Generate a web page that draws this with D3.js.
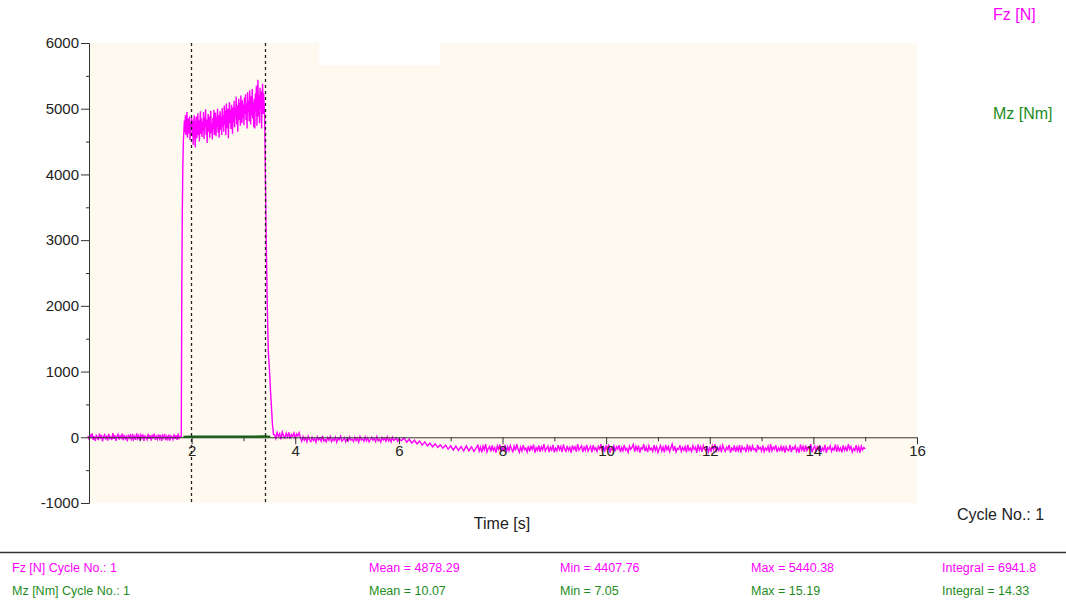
<!DOCTYPE html>
<html>
<head>
<meta charset="utf-8">
<script src="https://cdn.jsdelivr.net/npm/d3@7"></script>
<style>
  body { margin: 0; background: #fff; }
  svg text { font-family: "Liberation Sans", Arial, sans-serif; }
</style>
</head>
<body>
<svg id="chart" width="1066" height="608"></svg>
<script>
// sampled Fz before the press (t = 0 .. 1.78, every 0.02 s)
var fzPre = [20, -35, 45, -10, 60, -40, 15, -55, 30, 5, -45, 55, -20, 35, -60, 10, 40, -30, 25, -50,
  50, -15, 5, -40, 65, -25, 30, -55, 15, 45, -35, 20, -10, 55, -45, 35, -20, 10, -60, 40,
  -5, 30, -50, 50, -30, 15, -40, 60, -20, 25, -45, 35, -10, 45, -55, 20, 5, -35, 50, -25,
  30, -50, 40, -15, 55, -40, 10, -30, 45, -20, 35, -55, 25, -10, 50, -45, 15, -30, 40, -50,
  20, 5, -35, 45, -25, 30, -40, 55, -15, 10];
var fzPreStart = 0, fzPreStep = 0.02;

// rising edge [t, Fz]
var fzRise = [[1.80, 10], [1.81, 2200], [1.82, 3400], [1.83, 4100], [1.84, 4500], [1.85, 4650]];

// plateau (t = 1.86 .. 3.41, every 0.01 s)
var fzPlateau = [4820, 4640, 4900, 4600, 4780, 4950, 4560, 4850, 4700, 4620, 4880, 4520, 4790, 4680, 4860,
  4580, 4820, 4450, 4740, 4900, 4610, 4410, 4760, 4880, 4550, 4700, 4930, 4600, 4820, 4500, 4780, 4960, 4620, 4850, 4570,
  4800, 4660, 4950, 4540, 4870, 4720, 4990, 4600, 4830, 4480, 4760, 4920, 4650, 4880, 4560, 4810, 4970, 4630, 4770, 4530,
  4860, 4690, 4980, 4600, 4800, 4940, 4580, 4870, 4720, 5000, 4640, 4900, 4560, 4830, 4960, 4680, 4880, 4600, 5010, 4730,
  4900, 4650, 5050, 4760, 4970, 4600, 5080, 4820, 4700, 5000, 4550, 4920, 5100, 4780, 4980, 4690, 5060, 4840, 4620, 5020,
  4800, 5120, 4720, 5000, 4880, 5180, 4760, 5050, 4650, 4960, 5150, 4830, 5090, 4740, 5200, 4900, 4780, 5130, 4860, 5060,
  4750, 5170, 4920, 5220, 4830, 5080, 4700, 5250, 4950, 5120, 4810, 5280, 5000, 4760, 5190, 4900, 5300, 4850, 5100, 4720,
  5150, 4700, 5230, 4960, 5350, 4740, 5100, 5440, 4880, 5200, 4780, 5320, 4990, 5260, 4700, 5150, 5380, 4920, 5240, 5060, 4850];
var fzPlateauStart = 1.86, fzPlateauStep = 0.01;

// falling edge [t, Fz]
var fzFall = [[3.42, 4200], [3.44, 3000], [3.46, 2000], [3.48, 1300], [3.50, 1050], [3.53, 600], [3.56, 200], [3.58, 40]];

// after release, near zero (t = 3.60 .. 6.00, every 0.025 s)
var fzAfter = [40, -20, 70, 10, 55, -30, 80, 25, -10, 60, 5, 75, -25, 45, 15, 65, -15, 50, 20, 70, -5,
  -60, 10, -45, -5, -70, 15, -35, -65, 0, -50, -20, -75, 5, -40, -10, -60, 20, -55, -30, -70,
  -5, -45, 10, -65, -25, -50, 0, -75, -15, -40, 15, -60, -35, -5, -70, -20, -55, 5, -45, -30,
  -65, 0, -50, -15, -75, 10, -40, -25, -60, 5, -55, -10, -70, -35, 0, -45, -20, -65, 10, -50,
  -30, -75, -5, -40, -15, -60, 5, -55, -25, -70, 0, -45, -35, -10, -60, -30];
var fzAfterStart = 3.60, fzAfterStep = 0.025;

// slow drift down (t = 6.05 .. 7.50, every 0.05 s)
var fzDrift = [-50, -10, -75, -30, -90, -45, -100, -60, -120, -70, -130, -90, -145, -100, -155,
  -115, -165, -120, -180, -130, -195, -135, -200, -140, -210, -130, -205, -145, -215, -150];
var fzDriftStart = 6.05, fzDriftStep = 0.05;

// settled offset (t = 7.525 .. 15.0, every 0.025 s)
var fzTail = [-120, -210, -150, -230, -135, -190, -105, -225, -170, -140, -215, -125, -200, -160, -235, -130, -185, -110, -220, -155,
  -195, -115, -230, -145, -205, -125, -180, -220, -135, -200, -105, -175, -230, -150, -210, -120, -190, -165, -225, -130,
  -215, -140, -185, -110, -235, -160, -200, -125, -220, -145, -190, -105, -210, -170, -135, -225, -150, -195, -115, -230,
  -165, -205, -120, -190, -140, -225, -110, -180, -215, -130, -200, -155, -235, -125, -185, -145, -220, -105, -195, -160,
  -130, -225, -150, -200, -115, -210, -170, -135, -230, -120, -190, -160, -215, -140, -180, -105, -220, -150, -205, -125,
  -200, -110, -235, -165, -190, -130, -215, -145, -180, -120, -225, -155, -205, -115, -195, -170, -230, -135, -185, -150,
  -110, -220, -140, -195, -125, -235, -160, -180, -105, -210, -150, -225, -130, -190, -165, -215, -120, -200, -145, -230,
  -175, -125, -210, -150, -230, -115, -190, -140, -220, -160, -105, -205, -135, -225, -170, -185, -120, -215, -155, -195,
  -140, -230, -115, -200, -165, -215, -130, -185, -150, -235, -110, -195, -145, -220, -125, -180, -205, -135, -225, -160,
  -210, -130, -190, -105, -225, -155, -200, -140, -230, -120, -175, -215, -150, -185, -115, -235, -165, -195, -125, -220,
  -150, -205, -120, -235, -140, -185, -160, -225, -110, -200, -145, -215, -130, -190, -170, -230, -115, -180, -155, -210,
  -125, -220, -165, -195, -135, -230, -105, -205, -150, -185, -120, -225, -160, -200, -140, -215, -130, -235, -145, -190,
  -205, -115, -225, -155, -180, -130, -215, -165, -235, -110, -195, -140, -220, -125, -200, -150, -185, -105, -230, -170,
  -135, -210, -145, -190, -120, -225, -160, -200, -115, -235, -155, -180, -130, -215, -165, -195, -110, -220, -140, -205,
  -160, -230, -125, -195, -150, -215, -105, -185, -140, -225, -170, -200, -120, -210, -145, -235, -135, -190, -155, -180];
var fzTailStart = 7.525, fzTailStep = 0.025;

// Mz only while the load is on [t, Nm]
var mzData = [[1.84, 7.1], [2.0, 9.5], [2.3, 10.2], [2.6, 10.0], [2.9, 10.8], [3.2, 11.5], [3.4, 15.2], [3.52, 8.0]];

// cursor positions (s)
var cursors = [1.98, 3.41];

var xTicks = [2, 4, 6, 8, 10, 12, 14, 16];
var yTicks = [-1000, 0, 1000, 2000, 3000, 4000, 5000, 6000];

var statsRows = [
  { label: 'Fz [N] Cycle No.: 1', cells: ['Mean = 4878.29', 'Min = 4407.76', 'Max = 5440.38', 'Integral = 6941.8'], color: '#ff00ff' },
  { label: 'Mz [Nm] Cycle No.: 1', cells: ['Mean = 10.07', 'Min = 7.05', 'Max = 15.19', 'Integral = 14.33'], color: '#1e8c1e' }
];

// ---- build the series
function sampled(values, start, step) {
  return values.map(function(v, i) { return [start + i * step, v]; });
}
var fz = [].concat(
  sampled(fzPre, fzPreStart, fzPreStep),
  fzRise,
  sampled(fzPlateau, fzPlateauStart, fzPlateauStep),
  fzFall,
  sampled(fzAfter, fzAfterStart, fzAfterStep),
  sampled(fzDrift, fzDriftStart, fzDriftStep),
  sampled(fzTail, fzTailStart, fzTailStep)
);

var svg = d3.select('#chart');
// plot box (note: "top" is taken by window.top, so use other names)
var plotL = 89, plotR = 917, plotT = 43, plotB = 503;

var x = d3.scaleLinear().domain([0, 16]).range([88, plotR]);
var y = d3.scaleLinear().domain([-1000, 6000]).range([plotB, plotT]);

// plot background with the white notch at the top
svg.append('rect').attr('x', plotL).attr('y', plotT).attr('width', plotR - plotL).attr('height', plotB - plotT)
  .attr('fill', '#fffaef');
svg.append('rect').attr('x', 319).attr('y', plotT).attr('width', 121).attr('height', 22).attr('fill', '#fff');

var line = d3.line().x(function(d) { return x(d[0]); }).y(function(d) { return y(d[1]); });

// Fz goes under the axes
svg.append('path').datum(fz).attr('d', line)
  .attr('fill', 'none').attr('stroke', '#ff00ff').attr('stroke-width', 1.4);

// plain "-" for negatives like the original
var fmt = function(d) { return String(d); };

// y axis (left), major every 1000 with minor at 500
var yAxis = svg.append('g').attr('transform', 'translate(' + plotL + ',0)')
  .call(d3.axisLeft(y).tickValues(yTicks).tickSize(8).tickPadding(2).tickFormat(fmt));
var yMinor = svg.append('g').attr('transform', 'translate(' + plotL + ',0)')
  .call(d3.axisLeft(y).tickValues(d3.range(-500, 6000, 1000)).tickSize(3).tickFormat(''));
yMinor.select('.domain').remove();

// x axis drawn on the zero line
var xAxis = svg.append('g').attr('transform', 'translate(0,' + y(0) + ')')
  .call(d3.axisBottom(x).tickValues(xTicks).tickSize(7).tickPadding(1).tickFormat(fmt));
var xMinor = svg.append('g').attr('transform', 'translate(0,' + y(0) + ')')
  .call(d3.axisBottom(x).tickValues(d3.range(1, 16, 2)).tickSize(4).tickFormat(''));
xMinor.select('.domain').remove();

[yAxis, xAxis, yMinor, xMinor].forEach(function(a) {
  a.selectAll('path, line').attr('stroke', '#333');
  a.selectAll('text').attr('font-size', 15).attr('fill', '#222')
    .attr('font-family', '"Liberation Sans", Arial, sans-serif');
});
xAxis.select('.domain').attr('d', 'M' + plotL + ',0.5H' + plotR);

// Mz sits on top of the zero line
svg.append('path').datum(mzData).attr('d', line)
  .attr('fill', 'none').attr('stroke', '#156015').attr('stroke-width', 2.2);

// cursors
svg.selectAll('.cursor').data(cursors).enter().append('line')
  .attr('class', 'cursor')
  .attr('x1', function(d) { return Math.round(x(d)) + 0.5; })
  .attr('x2', function(d) { return Math.round(x(d)) + 0.5; })
  .attr('y1', plotT).attr('y2', plotB)
  .attr('stroke', '#222').attr('stroke-width', 1.3).attr('stroke-dasharray', '3,3');

// labels
svg.append('text').attr('x', 502).attr('y', 529).attr('text-anchor', 'middle')
  .attr('font-size', 16).attr('fill', '#222').text('Time [s]');
svg.append('text').attr('x', 957).attr('y', 520)
  .attr('font-size', 16).attr('fill', '#222').text('Cycle No.: 1');
svg.append('text').attr('x', 993).attr('y', 20)
  .attr('font-size', 16).attr('fill', '#ff00ff').text('Fz [N]');
svg.append('text').attr('x', 993).attr('y', 119)
  .attr('font-size', 16).attr('fill', '#1e8c1e').text('Mz [Nm]');

// stats table under the chart
svg.append('line').attr('x1', 0).attr('x2', 1066).attr('y1', 552.5).attr('y2', 552.5)
  .attr('stroke', '#333').attr('stroke-width', 1.5);

var colX = [369, 560, 751, 942];
statsRows.forEach(function(row, r) {
  var yy = 572 + r * 23;
  svg.append('text').attr('x', 12).attr('y', yy).attr('font-size', 12.5)
    .attr('fill', row.color).text(row.label);
  row.cells.forEach(function(c, i) {
    svg.append('text').attr('x', colX[i]).attr('y', yy).attr('font-size', 12.5)
      .attr('fill', row.color).text(c);
  });
});
</script>
</body>
</html>
